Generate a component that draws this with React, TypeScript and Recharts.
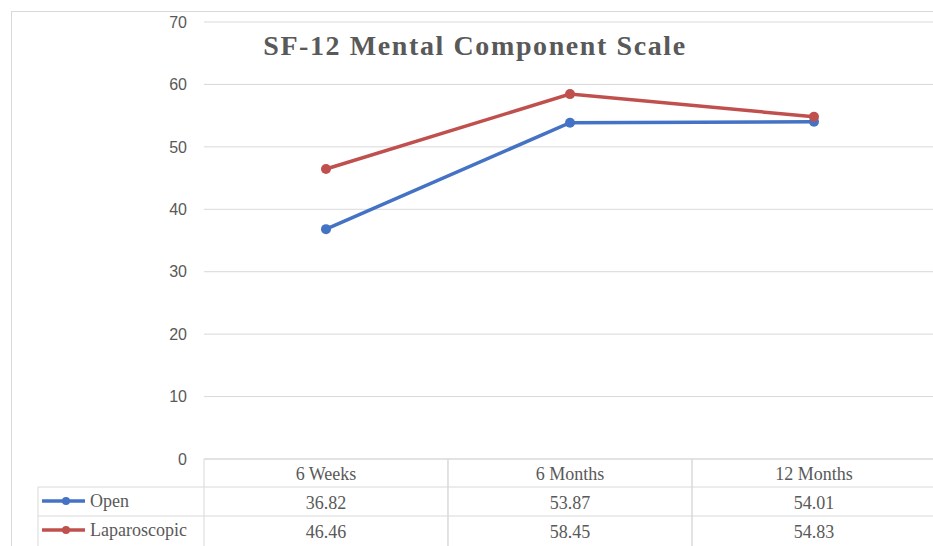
import { LineChart, Line, XAxis, YAxis, CartesianGrid } from 'recharts';

const categories = ['6 Weeks', '6 Months', '12 Months'];
const openValues = [36.82, 53.87, 54.01];
const lapValues = [46.46, 58.45, 54.83];
const yTicks = [0, 10, 20, 30, 40, 50, 60, 70];

const seriesInfo = [
  { key: 'open', name: 'Open', color: '#4472C4', values: openValues },
  { key: 'lap', name: 'Laparoscopic', color: '#C0504D', values: lapValues },
];

const data = categories.map((c, i) => ({
  name: c,
  open: openValues[i],
  lap: lapValues[i],
}));

const BORDER = '#D9D9D9';
const TEXT = '#595959';
const tableFont = '"Liberation Serif", serif';
const HALF = 122;
const ROW = 29;
const LEGEND_W = 166;

function TableColumn(props: any) {
  const { x, y, payload, index } = props;
  const top = y;
  const left = x - HALF;
  const right = x + HALF;
  return (
    <g>
      <line x1={left} x2={right} y1={top} y2={top} stroke={BORDER} />
      <line x1={left} x2={right} y1={top + 28} y2={top + 28} stroke={BORDER} />
      <line x1={left} x2={right} y1={top + 28 + ROW} y2={top + 28 + ROW} stroke={BORDER} />
      <line x1={left} x2={left} y1={top} y2={top + 90} stroke={BORDER} />
      <line x1={right} x2={right} y1={top} y2={top + 90} stroke={BORDER} />
      <text x={x} y={top + 21} textAnchor="middle" fontFamily={tableFont} fontSize={18} fill={TEXT}>
        {payload.value}
      </text>
      {seriesInfo.map((s, r) => (
        <text
          key={s.key}
          x={x}
          y={top + 28 + r * ROW + 22}
          textAnchor="middle"
          fontFamily={tableFont}
          fontSize={18}
          fill={TEXT}
        >
          {s.values[index].toFixed(2)}
        </text>
      ))}
      {index === 0 && (
        <g>
          <line x1={left - LEGEND_W} x2={left} y1={top + 28} y2={top + 28} stroke={BORDER} />
          <line x1={left - LEGEND_W} x2={left} y1={top + 28 + ROW} y2={top + 28 + ROW} stroke={BORDER} />
          <line x1={left - LEGEND_W} x2={left - LEGEND_W} y1={top + 28} y2={top + 90} stroke={BORDER} />
          {seriesInfo.map((s, r) => {
            const cy = top + 28 + r * ROW + 14;
            const lx = left - LEGEND_W + 4;
            return (
              <g key={s.key}>
                <line x1={lx} x2={lx + 43} y1={cy} y2={cy} stroke={s.color} strokeWidth={3.5} />
                <circle cx={lx + 24} cy={cy} r={4} fill={s.color} />
                <text x={lx + 48} y={cy + 6} fontFamily={tableFont} fontSize={18} fill={TEXT}>
                  {s.name}
                </text>
              </g>
            );
          })}
        </g>
      )}
    </g>
  );
}

export default function App() {
  return (
    <div style={{ position: 'absolute', left: 0, top: 0, width: 933, height: 546, overflow: 'hidden', background: '#fff' }}>
      <svg width={933} height={546} style={{ position: 'absolute', left: 0, top: 0 }}>
        <rect x={11.5} y={11.5} width={940} height={560} fill="none" stroke={BORDER} />
      </svg>
      <div style={{ position: 'absolute', left: 0, top: 0 }}>
        <LineChart width={945} height={546} data={data} margin={{ top: 22, right: 9, left: 0, bottom: 0 }}>
          <CartesianGrid vertical={false} stroke={BORDER} />
          <XAxis
            dataKey="name"
            height={87}
            axisLine={false}
            tickLine={false}
            tickSize={0}
            tickMargin={0}
            interval={0}
            padding={{ left: HALF, right: HALF }}
            tick={<TableColumn />}
          />
          <YAxis
            width={204}
            domain={[0, 70]}
            ticks={yTicks}
            axisLine={false}
            tickLine={false}
            tickMargin={11}
            tick={{ fill: '#595959', fontSize: 16, fontFamily: '"Liberation Sans", sans-serif' }}
          />
          {seriesInfo.map((s) => (
            <Line
              key={s.key}
              dataKey={s.key}
              name={s.name}
              type="linear"
              stroke={s.color}
              strokeWidth={3.5}
              dot={{ r: 5, fill: s.color, stroke: s.color, strokeWidth: 0 }}
              isAnimationActive={false}
            />
          ))}
        </LineChart>
      </div>
      <div
        style={{
          position: 'absolute',
          left: 475,
          top: 28,
          transform: 'translateX(-50%)',
          whiteSpace: 'nowrap',
          fontFamily: '"Liberation Serif", serif',
          fontWeight: 'bold',
          fontSize: 28,
          letterSpacing: '1.6px',
          color: '#595959',
          lineHeight: '36px',
        }}
      >
        SF-12 Mental Component Scale
      </div>
    </div>
  );
}
